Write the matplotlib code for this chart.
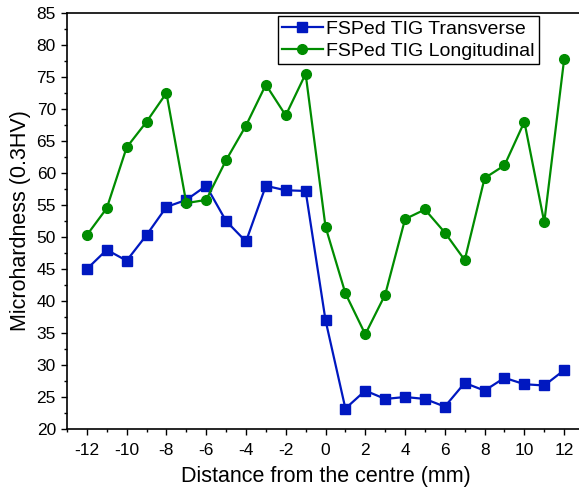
import matplotlib.pyplot as plt
from matplotlib.ticker import MultipleLocator

plt.rcParams['font.family'] = ['Liberation Sans', 'DejaVu Sans']
plt.rcParams['axes.unicode_minus'] = False

distance = list(range(-12, 13))
transverse = [45.0, 48.0, 46.3, 50.3, 54.7, 55.8, 58.0, 52.5, 49.3, 58.0, 57.3, 57.2,
              37.0, 23.2, 26.0, 24.7, 25.0, 24.7, 23.5, 27.2, 26.0, 28.0, 27.0, 26.8, 29.2]
longitudinal = [50.3, 54.5, 64.0, 68.0, 72.5, 55.3, 55.8, 62.0, 67.4, 73.8, 69.0, 75.5,
                51.6, 41.2, 34.8, 41.0, 52.8, 54.3, 50.7, 46.4, 59.2, 61.2, 68.0, 52.3, 77.8]

fig = plt.figure(figsize=(5.79, 4.95), dpi=100)
ax = fig.add_axes([0.1157, 0.1333, 0.893, 0.8404])

ax.plot(distance, transverse, color='#0018c0', marker='s', markersize=7, lw=1.6,
        label='FSPed TIG Transverse')
ax.plot(distance, longitudinal, color='#008c00', marker='o', markersize=7, lw=1.6,
        label='FSPed TIG Longitudinal')

ax.set_xlim(-13, 13)
ax.set_ylim(20, 85)
ax.xaxis.set_major_locator(MultipleLocator(2))
ax.xaxis.set_minor_locator(MultipleLocator(1))
ax.yaxis.set_major_locator(MultipleLocator(5))
ax.yaxis.set_minor_locator(MultipleLocator(2.5))
ax.tick_params(which='major', direction='out', length=4, width=1, labelsize=12.5)
ax.tick_params(axis='x', which='major', pad=6)
ax.tick_params(axis='y', which='major', pad=4)
ax.tick_params(which='minor', direction='out', length=2.5, width=1)
for s in ax.spines.values():
    s.set_linewidth(1.2)

ax.set_xlabel('Distance from the centre (mm)', fontsize=15.5, labelpad=6)
ax.set_ylabel('Microhardness (0.3HV)', fontsize=15.5, labelpad=4)

leg = ax.legend(loc='upper left', bbox_to_anchor=(0.404, 0.997), fontsize=14,
                fancybox=False, edgecolor='black', framealpha=1,
                handlelength=2.1, borderpad=0.2, labelspacing=0.25, handletextpad=0.2,
                borderaxespad=0.1)
leg.get_frame().set_linewidth(1.0)

fig.savefig('out.png', dpi=100)
